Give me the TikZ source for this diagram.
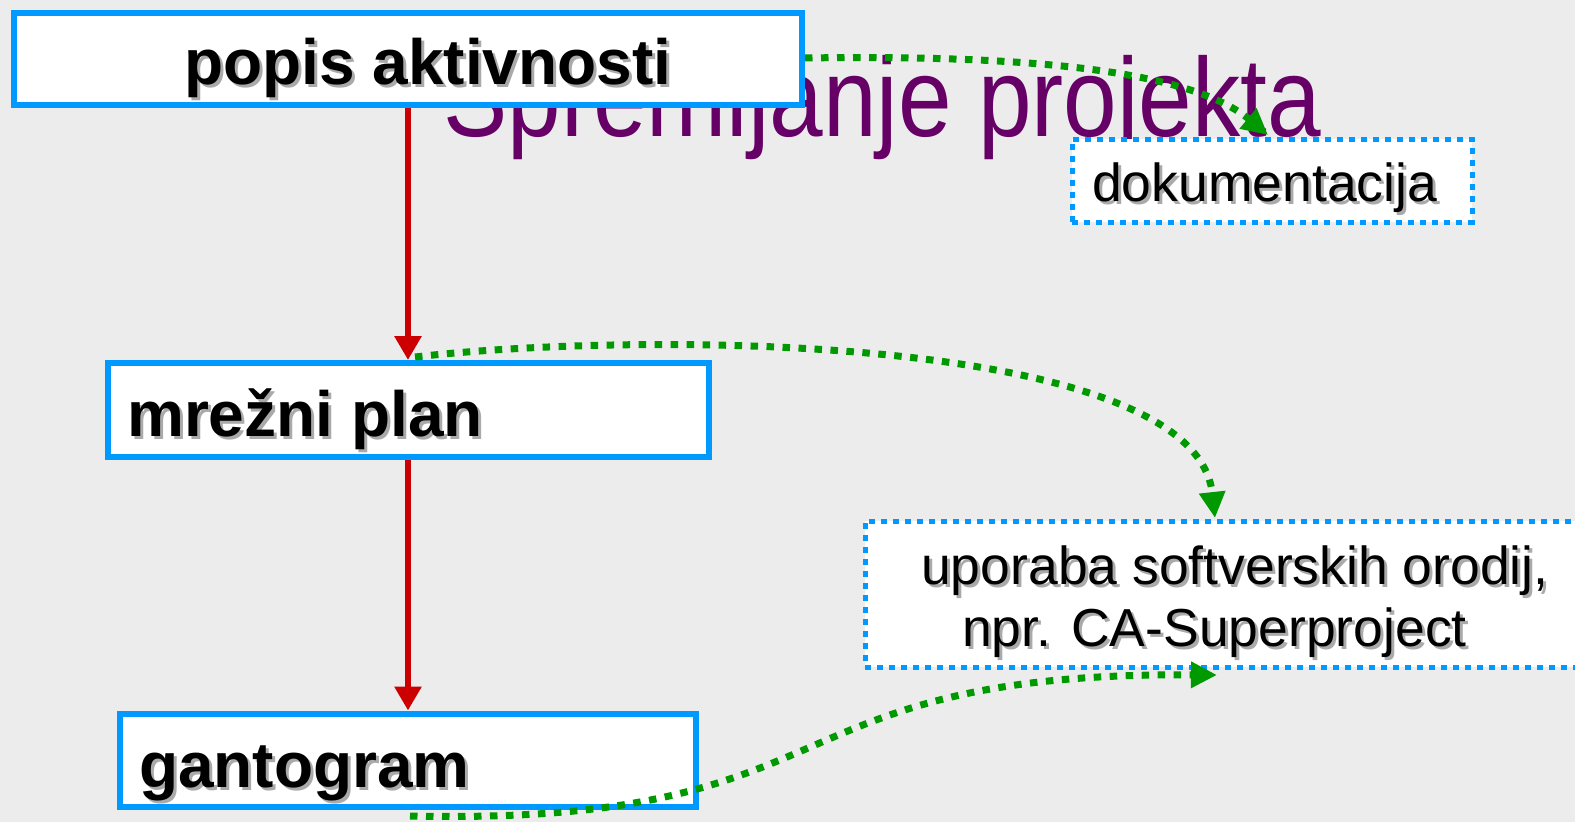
\documentclass[tikz,border=0pt]{standalone}
\usepackage{fontspec}
\setmainfont{Liberation Sans}
\usetikzlibrary{arrows.meta}
\definecolor{bg}{HTML}{ECECEC}
\definecolor{boxblue}{HTML}{0099FF}
\definecolor{arrred}{HTML}{CC0000}
\definecolor{arrgreen}{HTML}{009900}
\definecolor{titlepurple}{HTML}{660066}
\definecolor{shadowgray}{HTML}{AAAAAA}
\newcommand\shd[1]{\makebox[0pt][l]{\kern3pt\raisebox{-3pt}{\textcolor{shadowgray}{#1}}}#1}
\tikzset{
  solidbox/.style={draw=boxblue, line width=6pt, fill=white, inner sep=0pt},
  dotbox/.style={draw=boxblue, line width=5pt, fill=white, inner sep=0pt, dash pattern=on 6pt off 6pt},
  boldtxt/.style={anchor=base west, inner sep=0pt, font=\fontsize{64}{70}\selectfont\bfseries},
  regtxt/.style={anchor=base west, inner sep=0pt, font=\fontsize{53.5}{60}\selectfont},
  redarr/.style={draw=arrred, line width=6pt, -{Triangle[length=24pt,width=26pt]}},
  greenarr/.style={draw=arrgreen, line width=7pt, dash pattern=on 7.5pt off 8.5pt, -{Triangle[length=26pt,width=25pt]}},
}
\begin{document}
\begin{tikzpicture}[x=1pt,y=-1pt]
\fill[bg] (0,0) rectangle (1575,822);
\useasboundingbox (0,0) rectangle (1575,822);
% title (behind boxes)
\node[anchor=base west, inner sep=0pt, text=titlepurple, font=\fontsize{112}{120}\selectfont] (title) at (443,136) {\scalebox{0.86}[1]{Spremljanje projekta}};
% solid boxes
\node[solidbox, minimum width=788pt, minimum height=92pt] (popis) at (408,59) {};
\node[solidbox, minimum width=601pt, minimum height=94pt] (mrezni) at (408,410) {};
\node[solidbox, minimum width=576pt, minimum height=93pt] (gant) at (408,760) {};
% dotted boxes
\node[dotbox, minimum width=400pt, minimum height=83pt] (dok) at (1272,180.5) {};
\node[dotbox, minimum width=730pt, minimum height=146pt] (upo) at (1230,594) {};
% texts
\node[boldtxt] (popist) at (184,84) {\shd{popis aktivnosti}};
\node[boldtxt] (mreznit) at (127,436) {\shd{mrežni plan}};
\node[boldtxt] (gantt) at (139,787) {\shd{gantogram}};
\node[regtxt] (dokt) at (1092,201) {\shd{dokumentacija}};
\node[regtxt] (upot1) at (921,584) {\shd{uporaba softverskih orodij,}};
\node[regtxt] (upot2) at (962,646) {\shd{npr. CA-Superproject}};
% red arrows
\draw[redarr] (popis.south) -- (mrezni.north);
\draw[redarr] (mrezni.south) -- (gant.north);
% green arrows
\coordinate (g1s) at (popis.east |- 0,58);
\coordinate (g1e) at (1268,135);
\draw[greenarr] (g1s) .. controls (1000,55) and (1185,66) .. (g1e);
\coordinate (g2s) at (415,357);
\coordinate (g2e) at (1215,518);
\draw[greenarr] (g2s) .. controls (650,330) and (1195,335) .. (g2e);
\coordinate (g3s) at (410,816);
\coordinate (g3e) at (1217,675);
\draw[greenarr] (g3s) .. controls (860,826) and (760,672) .. (g3e);
\end{tikzpicture}
\end{document}
